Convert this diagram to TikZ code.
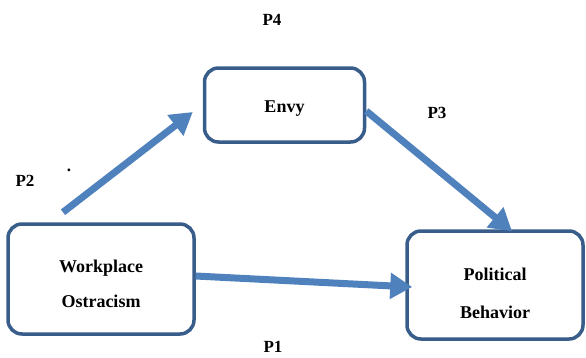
\documentclass[tikz,border=0pt]{standalone}
\usepackage{fontspec}
\setmainfont{Liberation Serif}
\usetikzlibrary{arrows.meta}

\definecolor{boxline}{HTML}{385D8A}
\definecolor{linkblue}{HTML}{4F81BD}

\begin{document}
\begin{tikzpicture}[x=1pt, y=-1pt,
    construct/.style={draw=boxline, line width=3.5pt, rounded corners=14pt, fill=white, inner sep=0pt},
    boxtext/.style={align=center, inner sep=0pt, font=\fontsize{18}{22}\selectfont\bfseries},
    link/.style={draw=linkblue, line width=7pt, -{Triangle[length=22pt, width=25pt]}},
    plabel/.style={font=\fontsize{17}{20}\selectfont\bfseries}]
    \useasboundingbox (0,0) rectangle (586,357);

    % Constructs
    \node[construct, minimum width=186pt, minimum height=110pt] (wo) at (101,279) {};
    \node[construct, minimum width=160pt, minimum height=74pt] (en) at (284.5,105) {};
    \node[construct, minimum width=176pt, minimum height=108pt] (pb) at (495,285) {};
    \node[boxtext] (wo-text) at ([yshift=-5pt]wo.center) {Workplace\\[13pt]Ostracism};
    \node[boxtext] (en-text) at ([yshift=-4pt]en.center) {Envy};
    \node[boxtext] (pb-text) at ([yshift=-8pt]pb.center) {Political\\[16pt]Behavior};

    % Paths
    \draw[link] ([xshift=-38pt, yshift=10pt]wo.north) -- ([xshift=-10pt, yshift=-7pt]en.west);
    \draw[link] ([yshift=-6pt]en.east) -- ([xshift=17pt, yshift=-2pt]pb.north);
    \draw[link] ([yshift=3pt]wo.east) -- ([xshift=7pt, yshift=-2pt]pb.west);

    % Path labels
    \node[plabel] (p4) at (272,20) {P4};
    \node[plabel] (p3) at (437,113) {P3};
    \node[plabel] (p2) at (25,181) {P2};
    \node[plabel] (p1) at (273,347) {P1};
    \node[plabel] (dot) at (69,170) {.};
\end{tikzpicture}
\end{document}
